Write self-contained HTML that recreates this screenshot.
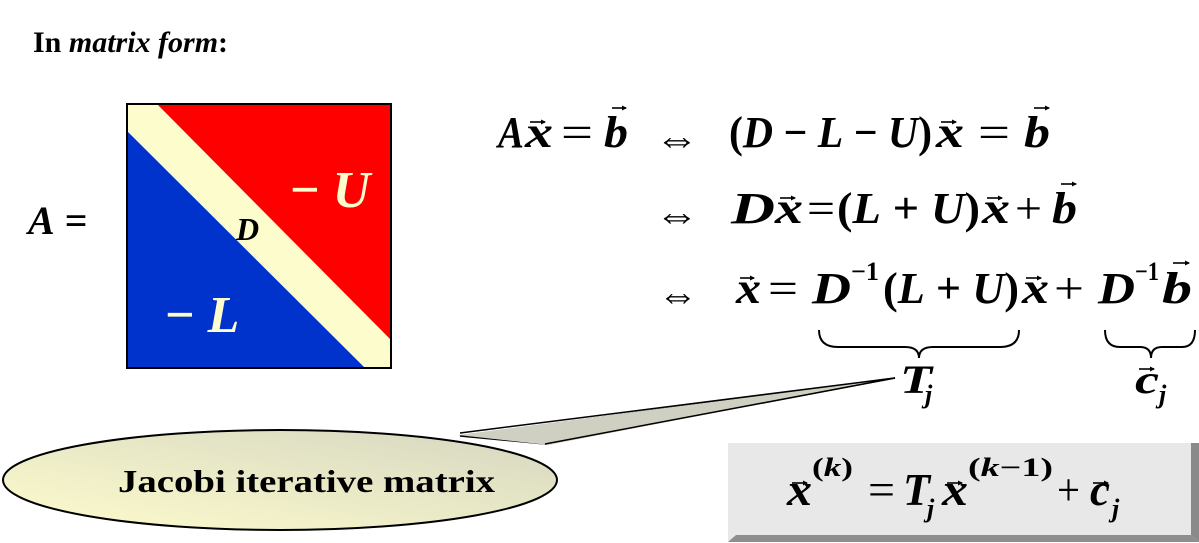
<!DOCTYPE html>
<html><head><meta charset="utf-8"><style>
html,body{margin:0;padding:0;background:#fff;}
svg{display:block;}
</style></head><body>
<svg width="1199" height="543" viewBox="0 0 1199 543">
<defs>
<linearGradient id="eg" x1="0" y1="1" x2="1" y2="0"><stop offset="0" stop-color="#fdfccc"/><stop offset="1" stop-color="#d6d6c2"/></linearGradient>
<marker id="ah" markerWidth="5" markerHeight="5" refX="4" refY="2.5" orient="auto" markerUnits="userSpaceOnUse"><path d="M0,0 L5,2.5 L0,5 z" fill="#000"/></marker>
</defs>
<text font-family="Liberation Serif, serif" x="33" y="52" font-weight="bold" font-size="30">In <tspan font-style="italic">matrix form</tspan>:</text>
<text font-family="Liberation Serif, serif" x="28" y="234" font-weight="bold" font-size="40"><tspan font-style="italic">A</tspan> =</text>
<g>
<rect x="127" y="104" width="264" height="264" fill="#fdfccc"/>
<polygon points="157,104 391,104 391,340" fill="#ff0000"/>
<polygon points="127,131 127,368 365,368" fill="#0033cc"/>
<rect x="127" y="104" width="264" height="264" fill="none" stroke="#000" stroke-width="2"/>
<text font-family="Liberation Serif, serif" x="290" y="207" font-weight="bold" font-size="52" fill="#fdfccc">− <tspan font-style="italic">U</tspan></text>
<text font-family="Liberation Serif, serif" x="236" y="240" font-weight="bold" font-size="32" fill="#000"><tspan font-style="italic">D</tspan></text>
<text font-family="Liberation Serif, serif" x="165" y="332" font-weight="bold" font-size="52" fill="#fdfccc">− <tspan font-style="italic">L</tspan></text>
</g>
<g font-weight="bold" font-size="44" fill="#000">
<text font-family="Liberation Serif, serif" x="498" y="147" textLength="26" lengthAdjust="spacingAndGlyphs"><tspan font-style="italic">A</tspan></text>
<text font-family="Liberation Serif, serif" x="525" y="147" textLength="28" lengthAdjust="spacingAndGlyphs"><tspan font-style="italic">x</tspan></text>
<text font-family="Liberation Serif, serif" x="561" y="147" textLength="32" lengthAdjust="spacingAndGlyphs" font-weight="normal">=</text>
<text font-family="Liberation Serif, serif" x="604" y="147" textLength="24" lengthAdjust="spacingAndGlyphs"><tspan font-style="italic">b</tspan></text>
<text font-family="Liberation Serif, serif" x="655" y="152" textLength="44" lengthAdjust="spacingAndGlyphs" font-weight="normal" font-size="40">⇔</text>
<text font-family="Liberation Serif, serif" x="729" y="147" textLength="203" lengthAdjust="spacingAndGlyphs">(<tspan font-style="italic">D</tspan> − <tspan font-style="italic">L</tspan> − <tspan font-style="italic">U</tspan>)</text>
<text font-family="Liberation Serif, serif" x="936" y="147" textLength="28" lengthAdjust="spacingAndGlyphs"><tspan font-style="italic">x</tspan></text>
<text font-family="Liberation Serif, serif" x="978" y="147" textLength="32" lengthAdjust="spacingAndGlyphs" font-weight="normal">=</text>
<text font-family="Liberation Serif, serif" x="1024" y="147" textLength="26" lengthAdjust="spacingAndGlyphs"><tspan font-style="italic">b</tspan></text>
<text font-family="Liberation Serif, serif" x="655" y="228" textLength="44" lengthAdjust="spacingAndGlyphs" font-weight="normal" font-size="40">⇔</text>
<text font-family="Liberation Serif, serif" x="731" y="223" textLength="44" lengthAdjust="spacingAndGlyphs"><tspan font-style="italic">D</tspan></text>
<text font-family="Liberation Serif, serif" x="775" y="223" textLength="28" lengthAdjust="spacingAndGlyphs"><tspan font-style="italic">x</tspan></text>
<text font-family="Liberation Serif, serif" x="807" y="223" textLength="28" lengthAdjust="spacingAndGlyphs" font-weight="normal">=</text>
<text font-family="Liberation Serif, serif" x="837" y="223" textLength="143" lengthAdjust="spacingAndGlyphs">(<tspan font-style="italic">L</tspan> + <tspan font-style="italic">U</tspan>)</text>
<text font-family="Liberation Serif, serif" x="982" y="223" textLength="28" lengthAdjust="spacingAndGlyphs"><tspan font-style="italic">x</tspan></text>
<text font-family="Liberation Serif, serif" x="1015" y="223" textLength="27" lengthAdjust="spacingAndGlyphs" font-weight="normal">+</text>
<text font-family="Liberation Serif, serif" x="1052" y="223" textLength="25" lengthAdjust="spacingAndGlyphs"><tspan font-style="italic">b</tspan></text>
<text font-family="Liberation Serif, serif" x="658" y="308" textLength="40" lengthAdjust="spacingAndGlyphs" font-weight="normal" font-size="40">⇔</text>
<text font-family="Liberation Serif, serif" x="736" y="303" textLength="25" lengthAdjust="spacingAndGlyphs"><tspan font-style="italic">x</tspan></text>
<text font-family="Liberation Serif, serif" x="768" y="303" textLength="30" lengthAdjust="spacingAndGlyphs" font-weight="normal">=</text>
<text font-family="Liberation Serif, serif" x="812" y="303" textLength="39" lengthAdjust="spacingAndGlyphs"><tspan font-style="italic">D</tspan></text>
<text font-family="Liberation Serif, serif" x="851" y="280" textLength="28" lengthAdjust="spacingAndGlyphs" font-size="26">−1</text>
<text font-family="Liberation Serif, serif" x="883" y="303" textLength="136" lengthAdjust="spacingAndGlyphs">(<tspan font-style="italic">L</tspan> + <tspan font-style="italic">U</tspan>)</text>
<text font-family="Liberation Serif, serif" x="1022" y="303" textLength="27" lengthAdjust="spacingAndGlyphs"><tspan font-style="italic">x</tspan></text>
<text font-family="Liberation Serif, serif" x="1054" y="303" textLength="30" lengthAdjust="spacingAndGlyphs" font-weight="normal">+</text>
<text font-family="Liberation Serif, serif" x="1098" y="303" textLength="37" lengthAdjust="spacingAndGlyphs"><tspan font-style="italic">D</tspan></text>
<text font-family="Liberation Serif, serif" x="1135" y="280" textLength="24" lengthAdjust="spacingAndGlyphs" font-size="26">−1</text>
<text font-family="Liberation Serif, serif" x="1162" y="303" textLength="30" lengthAdjust="spacingAndGlyphs"><tspan font-style="italic">b</tspan></text>
<g stroke="#000" stroke-width="1.6" marker-end="url(#ah)">
<line x1="530" y1="122" x2="545" y2="122"/><line x1="612" y1="108" x2="626" y2="108"/>
<line x1="941" y1="122" x2="956" y2="122"/><line x1="1034" y1="108" x2="1049" y2="108"/>
<line x1="780" y1="198" x2="795" y2="198"/><line x1="987" y1="198" x2="1002" y2="198"/><line x1="1061" y1="184" x2="1076" y2="184"/>
<line x1="740" y1="278" x2="754" y2="278"/><line x1="1026" y1="278" x2="1041" y2="278"/><line x1="1173" y1="263" x2="1189" y2="263"/>
</g>
<path d="M819,330 Q819,347 838,347 L905,347 Q919,347 919,358 Q919,347 933,347 L1000,347 Q1019,347 1019,330" fill="none" stroke="#000" stroke-width="2"/>
<path d="M1105,330 Q1105,347 1120,347 L1140,347 Q1151,347 1151,358 Q1151,347 1162,347 L1182,347 Q1195,347 1195,330" fill="none" stroke="#000" stroke-width="2"/>
<text font-family="Liberation Serif, serif" x="900" y="393" font-size="40" textLength="32" lengthAdjust="spacingAndGlyphs"><tspan font-style="italic">T</tspan></text>
<text font-family="Liberation Serif, serif" x="925" y="403" font-size="26"><tspan font-style="italic">j</tspan></text>
<text font-family="Liberation Serif, serif" x="1135" y="393" font-size="40" textLength="24" lengthAdjust="spacingAndGlyphs"><tspan font-style="italic">c</tspan></text>
<text font-family="Liberation Serif, serif" x="1159" y="403" font-size="26"><tspan font-style="italic">j</tspan></text>
<line x1="1139" y1="369" x2="1154" y2="369" stroke="#000" stroke-width="1.6" marker-end="url(#ah)"/>
</g>
<g>
<path d="M460,436 L895,378 L545,444 Z" fill="#c9c9c9" stroke="#000" stroke-width="1.5"/>
<ellipse cx="280" cy="480" rx="277" ry="50" fill="url(#eg)" stroke="#000" stroke-width="2"/>
<path d="M458,435 L895,378 L548,445" fill="#d0d0c2" stroke="none"/>
<path d="M460,433 L895,378 L545,444" fill="none" stroke="#000" stroke-width="1.5"/>
<text font-family="Liberation Serif, serif" x="118" y="492" font-weight="bold" font-size="32" textLength="377" lengthAdjust="spacingAndGlyphs">Jacobi iterative matrix</text>
</g>
<g>
<rect x="728" y="443" width="471" height="99" fill="#e8e8e8"/>
<polygon points="1191,443 1199,443 1199,542 1191,535" fill="#8a8a8a"/>
<polygon points="728,542 1199,542 1191,535 736,535" fill="#8e8e8e"/>
<g font-weight="bold" font-size="46" fill="#000">
<text font-family="Liberation Serif, serif" x="787" y="505" textLength="25" lengthAdjust="spacingAndGlyphs"><tspan font-style="italic">x</tspan></text>
<text font-family="Liberation Serif, serif" x="812" y="476" font-size="26" textLength="41" lengthAdjust="spacingAndGlyphs">(<tspan font-style="italic">k</tspan>)</text>
<text font-family="Liberation Serif, serif" x="868" y="505" textLength="27" lengthAdjust="spacingAndGlyphs" font-weight="normal">=</text>
<text font-family="Liberation Serif, serif" x="903" y="505" textLength="27" lengthAdjust="spacingAndGlyphs"><tspan font-style="italic">T</tspan></text>
<text font-family="Liberation Serif, serif" x="927" y="517" font-size="26"><tspan font-style="italic">j</tspan></text>
<text font-family="Liberation Serif, serif" x="942" y="505" textLength="26" lengthAdjust="spacingAndGlyphs"><tspan font-style="italic">x</tspan></text>
<text font-family="Liberation Serif, serif" x="968" y="476" font-size="26" textLength="85" lengthAdjust="spacingAndGlyphs">(<tspan font-style="italic">k</tspan>−1)</text>
<text font-family="Liberation Serif, serif" x="1057" y="505" textLength="23" lengthAdjust="spacingAndGlyphs" font-weight="normal">+</text>
<text font-family="Liberation Serif, serif" x="1090" y="505" textLength="20" lengthAdjust="spacingAndGlyphs"><tspan font-style="italic">c</tspan></text>
<text font-family="Liberation Serif, serif" x="1112" y="517" font-size="26"><tspan font-style="italic">j</tspan></text>
</g>
<g stroke="#000" stroke-width="1.6" marker-end="url(#ah)">
<line x1="792" y1="483" x2="807" y2="483"/><line x1="947" y1="483" x2="962" y2="483"/><line x1="1093" y1="483" x2="1108" y2="483"/>
</g>
</g>
</svg>
</body></html>
